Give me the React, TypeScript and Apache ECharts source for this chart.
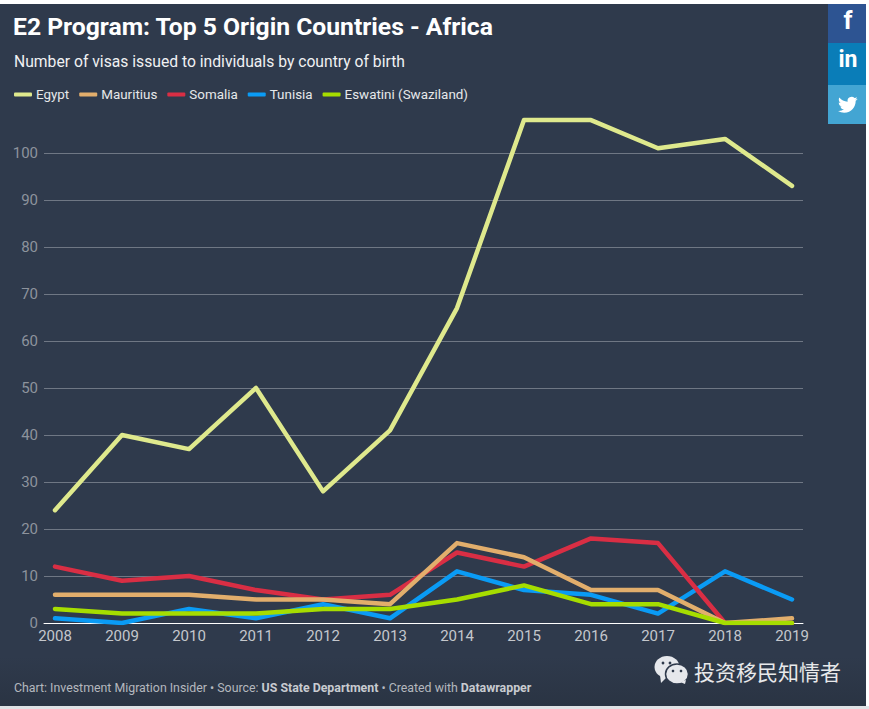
import React, { useEffect, useRef } from "react";
import * as echarts from "echarts";

const years = [2008, 2009, 2010, 2011, 2012, 2013, 2014, 2015, 2016, 2017, 2018, 2019];
const yTicks = [0, 10, 20, 30, 40, 50, 60, 70, 80, 90, 100];
const egypt = [24, 40, 37, 50, 28, 41, 67, 107, 107, 101, 103, 93];
const mauritius = [6, 6, 6, 5, 5, 4, 17, 14, 7, 7, 0, 1];
const somalia = [12, 9, 10, 7, 5, 6, 15, 12, 18, 17, 0, 0];
const tunisia = [1, 0, 3, 1, 4, 1, 11, 7, 6, 2, 11, 5];
const eswatini = [3, 2, 2, 2, 3, 3, 5, 8, 4, 4, 0, 0];
const legendOrder = ["Egypt", "Mauritius", "Somalia", "Tunisia", "Eswatini (Swaziland)"];

const FONT = "Roboto";
const BIRD =
  "M23.953 4.57a10 10 0 0 1-2.825.775 4.958 4.958 0 0 0 2.163-2.723c-.951.555-2.005.959-3.127 1.184a4.92 4.92 0 0 0-8.384 4.482C7.69 8.095 4.067 6.13 1.64 3.162a4.822 4.822 0 0 0-.666 2.475c0 1.71.87 3.213 2.188 4.096a4.904 4.904 0 0 1-2.228-.616v.06a4.923 4.923 0 0 0 3.946 4.827 4.996 4.996 0 0 1-2.212.085 4.936 4.936 0 0 0 4.604 3.417 9.867 9.867 0 0 1-6.102 2.105c-.39 0-.779-.023-1.17-.067a13.995 13.995 0 0 0 7.557 2.209c9.053 0 13.998-7.496 13.998-13.985 0-.21 0-.42-.015-.63A9.935 9.935 0 0 0 24 4.59z";

echarts.graphic.registerShape("bird", echarts.graphic.extendPath(BIRD, {}) as any);

const pair = (vals: number[]) => vals.map((v, i) => [years[i], v]);
const line = (name: string, vals: number[], color: string) => ({
  name,
  type: "line",
  data: pair(vals),
  showSymbol: false,
  symbol: "none",
  itemStyle: { color },
  lineStyle: { color, width: 4.5, cap: "round", join: "round" },
});

export default function App() {
  const ref = useRef<HTMLDivElement>(null);
  useEffect(() => {
    document.body.style.margin = "0";
    const chart = echarts.init(ref.current!, undefined, { renderer: "svg" });
    const bubble = "#e6e8ec";
    const bg = "#2f3a4c";
    chart.setOption({
      animation: false,
      backgroundColor: "#ffffff",
      textStyle: { fontFamily: FONT },
      title: [
        {
          text: "E2 Program: Top 5 Origin Countries - Africa",
          left: 13,
          top: 14,
          padding: 0,
          textStyle: { color: "#ffffff", fontFamily: FONT, fontSize: 24.7, fontWeight: 700 },
        },
        {
          text: "Number of visas issued to individuals by country of birth",
          left: 14,
          top: 53,
          padding: 0,
          textStyle: { color: "#f0f1f3", fontFamily: FONT, fontSize: 15.7, fontWeight: 400 },
        },
        {
          text: "{a|Chart: Investment Migration Insider • Source: }{b|US State Department}{a| • Created with }{b|Datawrapper}",
          left: 14,
          top: 682,
          padding: 0,
          textStyle: {
            rich: {
              a: { color: "#b4b8be", fontFamily: FONT, fontSize: 12.35, fontWeight: 400 },
              b: { color: "#c8cbd0", fontFamily: FONT, fontSize: 12.35, fontWeight: 700 },
            },
          },
        },
      ],
      legend: {
        left: 14,
        top: 88,
        padding: 0,
        icon: "roundRect",
        itemWidth: 18,
        itemHeight: 4,
        itemGap: 10,
        data: legendOrder,
        textStyle: { color: "#e6e8ea", fontFamily: FONT, fontSize: 13.4, padding: [0, 0, 0, -1] },
      },
      grid: { left: 44, right: 66, top: 106, bottom: 86, containLabel: false },
      xAxis: {
        type: "value",
        min: 2008 - 11 / 67,
        max: 2019 + 11 / 67,
        splitLine: { show: false },
        axisTick: { show: false },
        axisLine: { show: true, onZero: true, lineStyle: { color: "#ffffff", width: 1 } },
        axisLabel: {
          customValues: years,
          color: "#c4c7cc",
          fontFamily: FONT,
          fontSize: 15,
          margin: 5,
          formatter: (v: number) => String(Math.round(v)),
        },
      },
      yAxis: {
        type: "value",
        min: 0,
        max: 110,
        interval: 10,
        axisLine: { show: false },
        axisTick: { show: false },
        splitLine: { show: true, showMinLine: false, showMaxLine: false, lineStyle: { color: "#6f7784", width: 1 } },
        axisLabel: {
          customValues: yTicks,
          color: "#8d939d",
          fontFamily: FONT,
          fontSize: 15,
          margin: 6,
          align: "right",
        },
      },
      series: [
        line("Egypt", egypt, "#dfe98d"),
        line("Tunisia", tunisia, "#0a9bf5"),
        line("Somalia", somalia, "#d92e44"),
        line("Mauritius", mauritius, "#e2ae6c"),
        line("Eswatini (Swaziland)", eswatini, "#a6dd00"),
      ],
      graphic: [
        {
          type: "rect",
          z: -10,
          silent: true,
          shape: { x: 0, y: 4, width: 866, height: 702 },
          style: {
            fill: new echarts.graphic.LinearGradient(0, 0, 0, 1, [
              { offset: 0, color: bg },
              { offset: 0.93, color: bg },
              { offset: 1, color: "#2a3443" },
            ]),
          },
        },
        { type: "rect", z: -11, silent: true, shape: { x: 0, y: 706, width: 869, height: 3 }, style: { fill: "#dfe2e5" } },
        { type: "rect", z: 1, silent: true, shape: { x: 828, y: 4, width: 38, height: 39 }, style: { fill: "#2d5492" } },
        { type: "rect", z: 1, silent: true, shape: { x: 828, y: 43, width: 38, height: 42 }, style: { fill: "#0a7db8" } },
        { type: "rect", z: 1, silent: true, shape: { x: 828, y: 85, width: 38, height: 39 }, style: { fill: "#43a5d3" } },
        {
          type: "text",
          z: 2,
          silent: true,
          style: { x: 848, y: 20, text: "f", fill: "#ffffff", font: `700 25px ${FONT}`, align: "center", verticalAlign: "middle" },
        },
        {
          type: "text",
          z: 2,
          silent: true,
          style: { x: 848, y: 59, text: "in", fill: "#ffffff", font: `700 23px ${FONT}`, align: "center", verticalAlign: "middle" },
        },
        { type: "bird", z: 2, silent: true, x: 838, y: 95, scaleX: 0.82, scaleY: 0.82, style: { fill: "#ffffff" } } as any,
        // WeChat mark
        { type: "ellipse", z: 2, silent: true, shape: { cx: 667, cy: 667, rx: 12.5, ry: 11 }, style: { fill: bubble } },
        { type: "polygon", z: 2, silent: true, shape: { points: [[660, 675], [667, 677], [661, 683]] }, style: { fill: bubble } },
        { type: "ellipse", z: 3, silent: true, shape: { cx: 677, cy: 674, rx: 11.5, ry: 10 }, style: { fill: bubble, stroke: bg, lineWidth: 1.5 } },
        { type: "polygon", z: 3, silent: true, shape: { points: [[680, 682], [686, 680], [685, 684]] }, style: { fill: bubble } },
        { type: "circle", z: 4, silent: true, shape: { cx: 663, cy: 663, r: 1.4 }, style: { fill: bg } },
        { type: "circle", z: 4, silent: true, shape: { cx: 670, cy: 663, r: 1.4 }, style: { fill: bg } },
        { type: "circle", z: 4, silent: true, shape: { cx: 673, cy: 671, r: 1.3 }, style: { fill: bg } },
        { type: "circle", z: 4, silent: true, shape: { cx: 681, cy: 671, r: 1.3 }, style: { fill: bg } },
        {
          type: "text",
          z: 2,
          silent: true,
          style: {
            x: 694,
            y: 671,
            text: "投资移民知情者",
            fill: "#e8e9eb",
            font: `400 21px "Noto Sans CJK SC"`,
            verticalAlign: "middle",
          },
        },
      ],
    });
    return () => chart.dispose();
  }, []);
  return <div ref={ref} style={{ width: 869, height: 709 }} />;
}
